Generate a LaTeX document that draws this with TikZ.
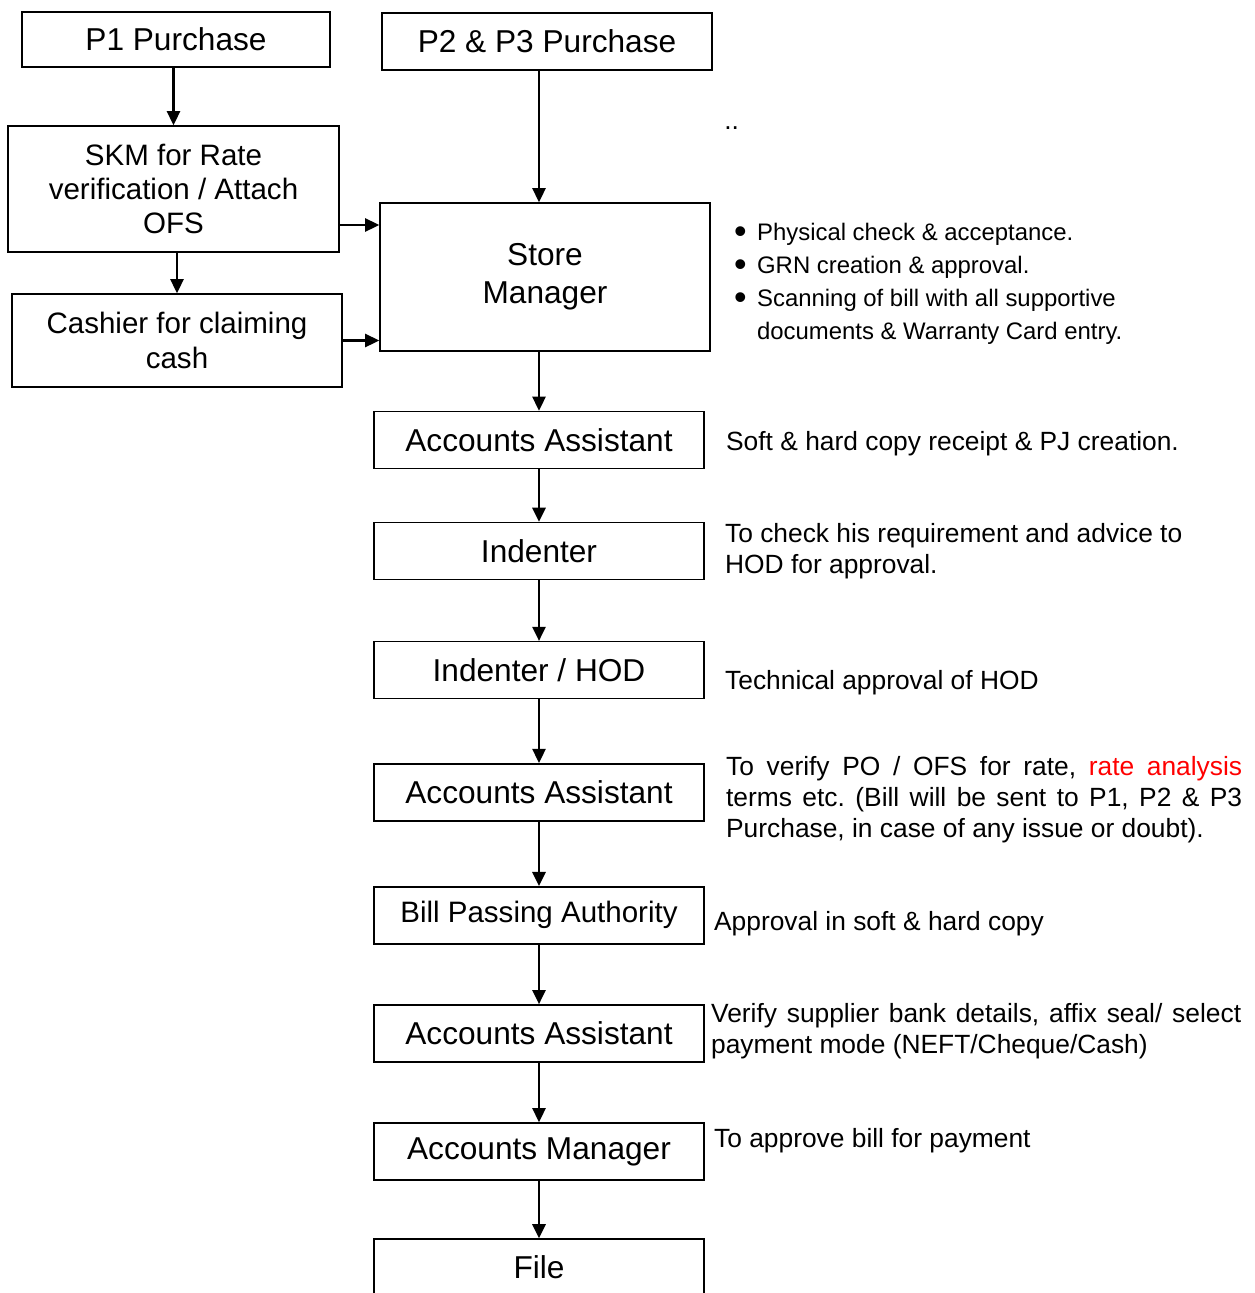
\documentclass[tikz,border=0pt]{standalone}
\usepackage{fontspec}
\setmainfont{Liberation Sans}
\usetikzlibrary{arrows.meta,positioning}

\begin{document}
\frenchspacing
\begin{tikzpicture}[>={Triangle[length=8pt,width=7.5pt]},
  box/.style={draw,line width=0.9pt,minimum width=6.6cm,minimum height=1.14cm,inner sep=2pt,align=center,font=\fontsize{18}{20}\selectfont},
  smallbox/.style={box,font=\fontsize{16.8}{19.6}\selectfont},
  note/.style={inner sep=0pt,anchor=west,align=left,font=\fontsize{15}{17.6}\selectfont},
  jnote/.style={note,align=justify},
  arr/.style={->,line width=1.2pt}]

	\useasboundingbox (0,0) rectangle (25.08,-25.86);

	\node[box,minimum width=6.16cm,minimum height=1.1cm] (P1) at (3.52,-0.79) {P1 Purchase};
	\node[box] (P23) at (10.94,-0.83) {P2 \& P3 Purchase};
	\node[smallbox,minimum width=6.62cm,minimum height=2.52cm] (SKM) at (3.47,-3.78) {SKM for Rate\\verification / Attach\\OFS};
	\node[smallbox,minimum height=1.86cm] (Cash) at (3.54,-6.81) {Cashier for claiming\\cash};
	\node[box,minimum height=2.96cm,font=\fontsize{18}{21.5}\selectfont] (SM) at (10.90,-5.54) {Store\\Manager};

	\node[box] (AA1) at (10.78,-8.8) {Accounts Assistant};
	\node[box] (Ind) [below=1.05cm of AA1] {Indenter};
	\node[box] (HOD) [below=1.21cm of Ind] {Indenter / HOD};
	\node[box] (AA2) [below=1.27cm of HOD] {Accounts Assistant};
	\node[smallbox] (BPA) [below=1.29cm of AA2] {Bill Passing Authority};
	\node[box] (AA3) [below=1.19cm of BPA] {Accounts Assistant};
	\node[box] (AM) [below=1.19cm of AA3] {Accounts Manager};
	\node[box] (File) [below=1.15cm of AM] {File};

	\node[note] (dots) at (14.48,-2.56) {..};
	\node[note,font=\fontsize{13.6}{18.7}\selectfont] (SMnote) [right=0.46cm of SM, yshift=-0.14cm] {%
		\makebox[0.46cm][l]{\raisebox{-1.6pt}{\scalebox{1.5}{\textbullet}}}Physical check \& acceptance.\\
		\makebox[0.46cm][l]{\raisebox{-1.6pt}{\scalebox{1.5}{\textbullet}}}GRN creation \& approval.\\
		\makebox[0.46cm][l]{\raisebox{-1.6pt}{\scalebox{1.5}{\textbullet}}}Scanning of bill with all supportive\\
		\makebox[0.46cm][l]{}documents \& Warranty Card entry.};
	\node[note] (AA1note) [right=0.42cm of AA1, yshift=-0.08cm] {Soft \& hard copy receipt \& PJ creation.};
	\node[note] (Indnote) [right=0.40cm of Ind] {To check his requirement and advice to\\HOD for approval.};
	\node[note] (HODnote) [right=0.40cm of HOD, yshift=-0.26cm] {Technical approval of HOD};
	\node[jnote,text width=10.32cm] (AA2note) [right=0.42cm of AA2, yshift=-0.15cm] {To verify PO / OFS for rate, \textcolor{red}{rate analysis}\linebreak
		terms etc. (Bill will be sent to P1, P2 \& P3\linebreak
		Purchase, in case of any issue or doubt).};
	\node[note] (BPAnote) [right=0.18cm of BPA, yshift=-0.16cm] {Approval in soft \& hard copy};
	\node[jnote,text width=10.6cm] (AA3note) [right=0.12cm of AA3, yshift=0.05cm] {Verify supplier bank details, affix seal/ select\linebreak
		payment mode (NEFT/Cheque/Cash)};
	\node[note] (AMnote) [right=0.18cm of AM, yshift=0.22cm] {To approve bill for payment};

	\draw[arr] (P1.south -| SKM) -- (SKM.north);
	\draw[arr] (SKM.south -| Cash) -- (Cash.north);
	\draw[arr] ([yshift=-0.72cm]SKM.east) -- ([yshift=-0.72cm]SKM.east -| SM.west);
	\draw[arr] (Cash.east) -- (Cash.east -| SM.west);
	\draw[arr] (P23.south -| AA1) -- (SM.north -| AA1);
	\draw[arr] (SM.south -| AA1) -- (AA1.north);
	\draw[arr] (AA1) -- (Ind);
	\draw[arr] (Ind) -- (HOD);
	\draw[arr] (HOD) -- (AA2);
	\draw[arr] (AA2) -- (BPA);
	\draw[arr] (BPA) -- (AA3);
	\draw[arr] (AA3) -- (AM);
	\draw[arr] (AM) -- (File);
\end{tikzpicture}
\end{document}
